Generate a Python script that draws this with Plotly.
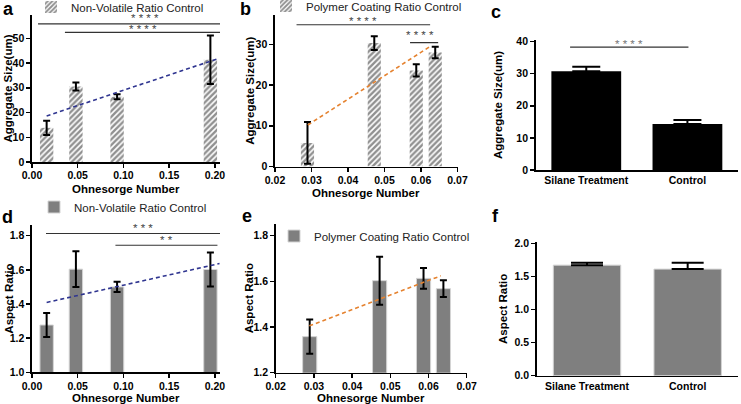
import plotly.graph_objects as go

W, H = 741, 404
FONT = "Liberation Sans"

# ---------------- data ----------------
oh_nv = [0.016, 0.048, 0.093, 0.195]            # Ohnesorge, non-volatile ratio control
oh_pc = [0.0289, 0.0472, 0.0587, 0.0639]        # Ohnesorge, polymer coating ratio control

size_nv = [13.8, 30.5, 26.4, 41.3]
size_nv_err = [2.9, 1.6, 1.0, 9.8]
size_pc = [5.8, 30.3, 23.6, 28.0]
size_pc_err = [5.1, 1.7, 1.5, 1.4]

treat_cats = ["Silane Treatment", "Control"]
size_treat = [30.8, 14.3]
size_treat_err = [1.4, 1.3]

ar_nv = [1.277, 1.604, 1.500, 1.602]
ar_nv_err = [0.07, 0.105, 0.03, 0.10]
ar_pc = [1.358, 1.603, 1.613, 1.568]
ar_pc_err = [0.075, 0.105, 0.045, 0.037]
ar_treat = [1.67, 1.61]
ar_treat_err = [0.035, 0.095]

# linear trend lines (start/end points)
trend_size_nv_x = [0.016, 0.202]
trend_size_nv_y = [18.6, 41.6]
trend_size_pc_x = [0.029, 0.0627]
trend_size_pc_y = [10.2, 29.6]
trend_ar_nv_x = [0.016, 0.205]
trend_ar_nv_y = [1.409, 1.637]
trend_ar_pc_x = [0.0288, 0.0632]
trend_ar_pc_y = [1.405, 1.624]

# significance brackets: (x0, x1, y, label, label_x, label_y)
sig_a = [(0.0066, 0.2055, 55.8, "* * * *", 0.1236, 58.0),
         (0.036, 0.2055, 52.4, "* * * *", 0.121, 53.6)]
sig_b = [(0.0259, 0.0625, 34.8, "* * * *", 0.0442, 35.8),
         (0.0570, 0.0647, 30.4, "* * * *", 0.0597, 32.4)]
sig_c = [(-0.16, 1.01, 38.25, "* * * *", 0.42, 39.4)]
sig_d = [(0.0153, 0.2055, 1.813, "* * *", 0.1218, 1.845),
         (0.0912, 0.2027, 1.744, "* *", 0.147, 1.772)]

# ---------------- layout helpers ----------------
def px_x(x):
    return x / W

def px_y(y):
    return 1 - y / H

BLUE = "#2f3590"
ORANGE = "#e5822f"
GRAY = "#7f7f7f"

fig = go.Figure()

hatch = dict(shape="/", size=4, solidity=0.6, fgcolor="#222222", bgcolor="white", fillmode="overlay")

def err(arr, width=3.5, minus=None):
    d = dict(type="data", array=arr, thickness=2, width=width, color="black", visible=True)
    if minus is not None:
        d["symmetric"] = False
        d["arrayminus"] = minus
    return d

# a
fig.add_trace(go.Bar(x=oh_nv, y=size_nv, width=0.0146, marker=dict(color="white", pattern=hatch, line=dict(width=0)),
                     error_y=err(size_nv_err), name="Non-Volatile Ratio Control", xaxis="x", yaxis="y",
                     legend="legend", showlegend=True))
fig.add_trace(go.Scatter(x=trend_size_nv_x, y=trend_size_nv_y, mode="lines",
                         line=dict(color=BLUE, width=1.6, dash="4px,3px"), xaxis="x", yaxis="y", showlegend=False))
# b
fig.add_trace(go.Bar(x=oh_pc, y=size_pc, width=0.0036, marker=dict(color="white", pattern=hatch, line=dict(width=0)),
                     error_y=err(size_pc_err), name="Polymer Coating Ratio Control", xaxis="x2", yaxis="y2",
                     legend="legend2", showlegend=True))
fig.add_trace(go.Scatter(x=trend_size_pc_x, y=trend_size_pc_y, mode="lines",
                         line=dict(color=ORANGE, width=1.6, dash="4px,3px"), xaxis="x2", yaxis="y2", showlegend=False))
# c
fig.add_trace(go.Bar(x=treat_cats, y=size_treat, width=0.69, marker=dict(color="black", line=dict(width=0)),
                     error_y=err(size_treat_err, width=14, minus=[0, 0]), xaxis="x3", yaxis="y3", showlegend=False))
# d
fig.add_trace(go.Bar(x=oh_nv, y=ar_nv, width=0.0146, marker=dict(color=GRAY, line=dict(width=1, color="#d4d4d4")),
                     error_y=err(ar_nv_err), name="Non-Volatile Ratio Control", xaxis="x4", yaxis="y4",
                     legend="legend3", showlegend=True))
fig.add_trace(go.Scatter(x=trend_ar_nv_x, y=trend_ar_nv_y, mode="lines",
                         line=dict(color=BLUE, width=1.6, dash="4px,3px"), xaxis="x4", yaxis="y4", showlegend=False))
# e
fig.add_trace(go.Bar(x=oh_pc, y=ar_pc, width=0.0037, marker=dict(color=GRAY, line=dict(width=1, color="#d4d4d4")),
                     error_y=err(ar_pc_err), name="Polymer Coating Ratio Control", xaxis="x5", yaxis="y5",
                     legend="legend4", showlegend=True))
fig.add_trace(go.Scatter(x=trend_ar_pc_x, y=trend_ar_pc_y, mode="lines",
                         line=dict(color=ORANGE, width=1.6, dash="4px,3px"), xaxis="x5", yaxis="y5", showlegend=False))
# f
fig.add_trace(go.Bar(x=treat_cats, y=ar_treat, width=0.67, marker=dict(color=GRAY, line=dict(width=1, color="#d4d4d4")),
                     error_y=err(ar_treat_err, width=16, minus=[0, 0]), xaxis="x6", yaxis="y6", showlegend=False))

tickfont = dict(family=FONT, size=10.5, color="black", weight="bold")

def xaxis(dom, rng=None, dtick=None, fmt=None, cat=False, anchor="y"):
    d = dict(domain=[px_x(dom[0]), px_x(dom[1])], anchor=anchor, showline=True, linecolor="black", linewidth=1.6,
             showgrid=False, zeroline=False, tickfont=tickfont, fixedrange=True, automargin=False)
    if cat:
        d.update(type="category", range=[-0.5, 1.5], ticks="")
    else:
        d.update(range=rng, dtick=dtick, tick0=rng[0], tickformat=fmt, ticks="outside", ticklen=4,
                 tickwidth=1.5, tickcolor="black", ticklabelstandoff=-1)
    return d

def yaxis(dom, rng, tickvals, fmt=None, anchor="x"):
    return dict(domain=[px_y(dom[1]), px_y(dom[0])], anchor=anchor, range=rng, tickvals=tickvals, tickformat=fmt,
                showline=True, linecolor="black", linewidth=1.6, showgrid=False, zeroline=False, automargin=False,
                ticks="outside", ticklen=4, tickwidth=1.5, tickcolor="black", tickfont=tickfont, fixedrange=True)

dom_a = ([32, 220], [15, 162])
dom_b = ([275, 457.5], [15, 166.5])
dom_c = ([535.7, 738], [40, 170])
dom_d = ([32, 220], [225, 372.3])
dom_e = ([275.7, 466.7], [224, 372.7])
dom_f = ([536.7, 738], [242.3, 375.7])

fig.update_layout(
    width=W, height=H, margin=dict(l=0, r=0, t=0, b=0, autoexpand=False), paper_bgcolor="white", plot_bgcolor="white",
    barmode="overlay", font=dict(family=FONT, color="black"),
    xaxis=xaxis(dom_a[0], [0, 0.2055], 0.05, ".2f", anchor="y"),
    yaxis=yaxis(dom_a[1], [0, 59.4], [0, 10, 20, 30, 40, 50], anchor="x"),
    xaxis2=xaxis(dom_b[0], [0.02, 0.07], 0.01, ".2f", anchor="y2"),
    yaxis2=yaxis(dom_b[1], [0, 37.2], [0, 10, 20, 30], anchor="x2"),
    xaxis3=xaxis(dom_c[0], cat=True, anchor="y3"),
    yaxis3=yaxis(dom_c[1], [0, 40.5], [0, 10, 20, 30, 40], anchor="x3"),
    xaxis4=xaxis(dom_d[0], [0, 0.2055], 0.05, ".2f", anchor="y4"),
    yaxis4=yaxis(dom_d[1], [1.0, 1.8627], [1.0, 1.2, 1.4, 1.6, 1.8], ".1f", anchor="x4"),
    xaxis5=xaxis(dom_e[0], [0.02, 0.07], 0.01, ".2f", anchor="y5"),
    yaxis5=yaxis(dom_e[1], [1.2, 1.851], [1.2, 1.4, 1.6, 1.8], ".1f", anchor="x5"),
    xaxis6=xaxis(dom_f[0], cat=True, anchor="y6"),
    yaxis6=yaxis(dom_f[1], [0, 2.015], [0, 0.5, 1.0, 1.5, 2.0], ".1f", anchor="x6"),
)

legfont = dict(family=FONT, size=11.5, color="#222222")
def legend_at(xpx, ypx):
    return dict(x=px_x(xpx), y=px_y(ypx), xanchor="left", yanchor="middle", bgcolor="rgba(0,0,0,0)",
                borderwidth=0, font=legfont, itemwidth=30, tracegroupgap=0)

fig.update_layout(legend=legend_at(31, 7), legend2=legend_at(266, 6), legend3=legend_at(34, 207),
                  legend4=legend_at(274, 236))

# significance brackets
for sigs, xr, yr, col in [(sig_a, "x", "y", "#444444"), (sig_b, "x2", "y2", "#444444"),
                          (sig_c, "x3", "y3", "#777777"), (sig_d, "x4", "y4", "#444444")]:
    for x0, x1, y, lab, lx, ly in sigs:
        fig.add_shape(type="line", x0=x0, x1=x1, y0=y, y1=y, xref=xr, yref=yr,
                      line=dict(color="#333333", width=1.2))
        fig.add_annotation(x=lx, y=ly, xref=xr, yref=yr, text=lab, showarrow=False, xanchor="center",
                           yanchor="middle", font=dict(family=FONT, size=11.5, color=col))

# axis titles
titlefont = dict(family=FONT, size=11.5, color="black", weight="bold")
ytitles = [("Aggregate Size(um)", 8, dom_a), ("Aggregate Size(um)", 250, dom_b), ("Aggregate Size(um)", 498, dom_c),
           ("Aspect Ratio", 9, dom_d), ("Aspect Ratio", 249, dom_e), ("Aspect Ratio", 503, dom_f)]
for txt, xp, dom in ytitles:
    yc = (dom[1][0] + dom[1][1]) / 2
    fig.add_annotation(x=px_x(xp), y=px_y(yc), xref="paper", yref="paper", text=txt, textangle=-90,
                       showarrow=False, xanchor="center", yanchor="middle", font=titlefont)
xtitles = [("Ohnesorge Number", 188.5, dom_a), ("Ohnesorge Number", 192.5, dom_b),
           ("Ohnesorge Number", 397.5, dom_d), ("Ohnesorge Number", 397.5, dom_e)]
for txt, yp, dom in xtitles:
    xc = (dom[0][0] + dom[0][1]) / 2
    fig.add_annotation(x=px_x(xc), y=px_y(yp), xref="paper", yref="paper", text=txt, showarrow=False,
                       xanchor="center", yanchor="middle", font=titlefont)

# panel letters
letters = [("a", 8, 9), ("b", 245, 9), ("c", 496, 12), ("d", 7.5, 217), ("e", 247, 216), ("f", 495, 216)]
for t, xp, yp in letters:
    fig.add_annotation(x=px_x(xp), y=px_y(yp), xref="paper", yref="paper", text=t, showarrow=False,
                       xanchor="center", yanchor="middle", font=dict(family=FONT, size=18, color="black", weight="bold"))

fig.write_html("out.html", config={"displayModeBar": False, "staticPlot": True},
               post_script="document.body.style.margin='0';document.body.style.padding='0';")
